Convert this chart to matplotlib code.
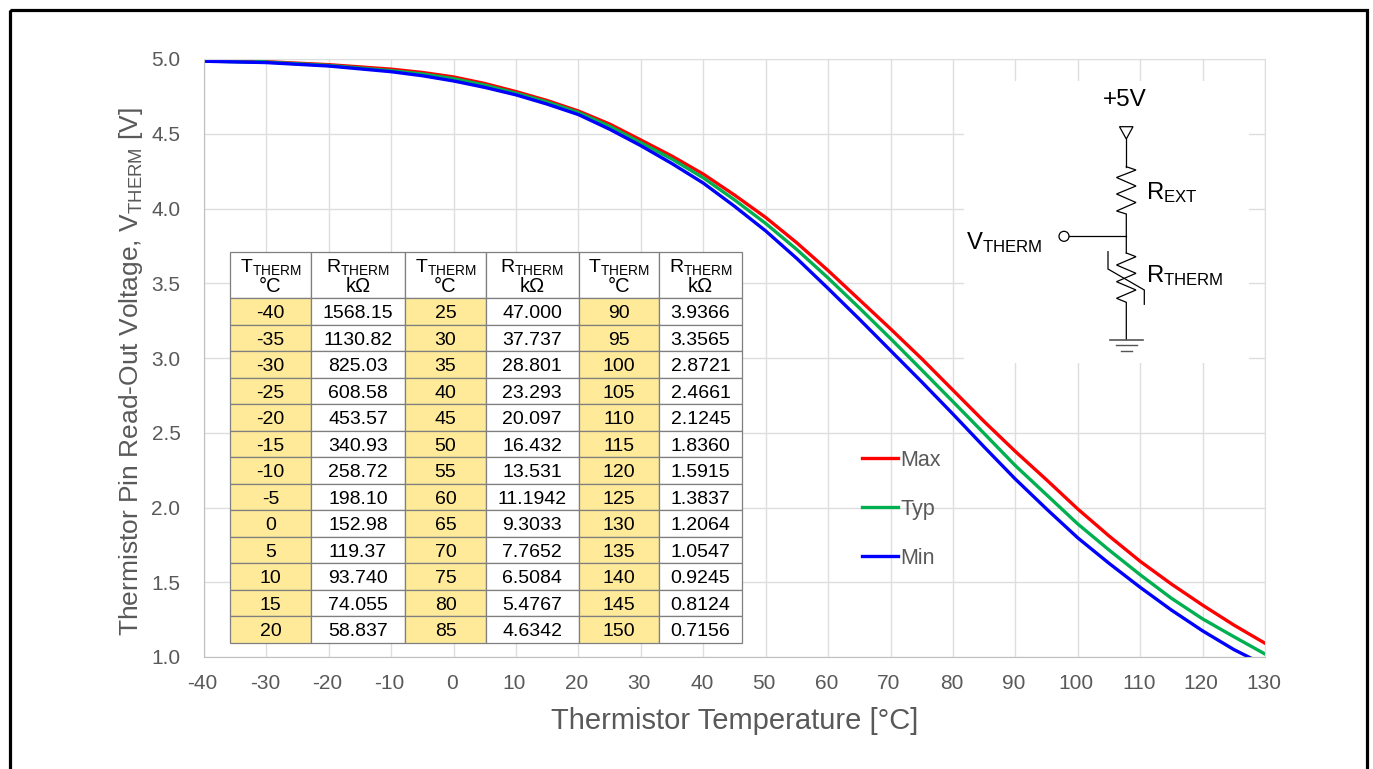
import matplotlib
matplotlib.use('Agg')
import matplotlib.pyplot as plt
from matplotlib.patches import Rectangle, Circle, Polygon
from matplotlib.transforms import ScaledTranslation

plt.rcParams['font.family'] = ['Liberation Sans', 'DejaVu Sans']
plt.rcParams['mathtext.fontset'] = 'custom'
plt.rcParams['mathtext.rm'] = 'Liberation Sans'
plt.rcParams['mathtext.default'] = 'regular'
plt.rcParams['axes.unicode_minus'] = False

# Data
temp = [-40, -32, -31, -30, -20, -10, -5, 0, 5, 10, 15, 20, 25, 30, 35, 40, 45, 50, 55, 60, 65, 70, 75, 80, 85,
        90, 95, 100, 105, 110, 115, 120, 125, 130]
v_max = [4.988, 4.984, 4.983, 4.982, 4.962, 4.932, 4.91, 4.88, 4.836, 4.782, 4.722, 4.652, 4.565, 4.458, 4.35,
         4.23, 4.09, 3.94, 3.77, 3.585, 3.39, 3.195, 2.995, 2.785, 2.575, 2.375, 2.185, 1.99, 1.81, 1.64, 1.488,
         1.347, 1.214, 1.092]
v_typ = [4.987, 4.978, 4.996, 4.979, 4.957, 4.922, 4.9, 4.868, 4.825, 4.771, 4.712, 4.642, 4.55, 4.44, 4.33,
         4.205, 4.058, 3.90, 3.725, 3.535, 3.335, 3.13, 2.92, 2.708, 2.495, 2.28, 2.085, 1.89, 1.716, 1.55, 1.393,
         1.255, 1.136, 1.02]
v_min = [4.985, 4.978, 4.977, 4.976, 4.953, 4.915, 4.888, 4.853, 4.81, 4.76, 4.698, 4.628, 4.53, 4.42, 4.30,
         4.17, 4.015, 3.85, 3.665, 3.465, 3.26, 3.05, 2.84, 2.625, 2.405, 2.19, 1.99, 1.797, 1.627, 1.466, 1.314,
         1.175, 1.05, 0.945]

x_ticks = list(range(-40, 131, 10))
y_ticks = [1.0, 1.5, 2.0, 2.5, 3.0, 3.5, 4.0, 4.5, 5.0]

t_col1 = ['-40', '-35', '-30', '-25', '-20', '-15', '-10', '-5', '0', '5', '10', '15', '20']
r_col1 = ['1568.15', '1130.82', '825.03', '608.58', '453.57', '340.93', '258.72', '198.10', '152.98', '119.37', '93.740', '74.055', '58.837']
t_col2 = ['25', '30', '35', '40', '45', '50', '55', '60', '65', '70', '75', '80', '85']
r_col2 = ['47.000', '37.737', '28.801', '23.293', '20.097', '16.432', '13.531', '11.1942', '9.3033', '7.7652', '6.5084', '5.4767', '4.6342']
t_col3 = ['90', '95', '100', '105', '110', '115', '120', '125', '130', '135', '140', '145', '150']
r_col3 = ['3.9366', '3.3565', '2.8721', '2.4661', '2.1245', '1.8360', '1.5915', '1.3837', '1.2064', '1.0547', '0.9245', '0.8124', '0.7156']

GREY = '#595959'
GRID = '#dedede'

fig = plt.figure(figsize=(13.73, 7.69), dpi=100)
ax = fig.add_axes([204/1373, (769-657)/769, 1061/1373, 598/769])

ax.plot(temp, v_max, color='#ff0000', lw=2.4, label='Max')
ax.plot(temp, v_typ, color='#00b050', lw=2.4, label='Typ')
ax.plot(temp, v_min, color='#0000ff', lw=2.4, label='Min')

ax.set_xlim(-40, 130)
ax.set_ylim(1, 5)
ax.set_xticks(x_ticks)
ax.set_yticks(y_ticks)
ax.set_yticklabels(['%.1f' % v for v in y_ticks])
ax.grid(True, color=GRID, lw=1)
ax.set_axisbelow(True)
ax.tick_params(axis='x', length=0, pad=12, labelsize=15, labelcolor=GREY)
ax.tick_params(axis='y', length=0, pad=17, labelsize=15, labelcolor=GREY)
# tick labels sit a little left of their gridlines in the original
shift = ScaledTranslation(-1.5/100, 0, fig.dpi_scale_trans)
for lab in ax.get_xticklabels():
    lab.set_transform(lab.get_transform() + shift)
for s in ['top', 'right']:
    ax.spines[s].set_color(GRID)
for s in ['left', 'bottom']:
    ax.spines[s].set_color('#bfbfbf')

ax.set_xlabel('Thermistor Temperature [°C]', fontsize=21, color=GREY, va='center')
ax.xaxis.set_label_coords(0.5, -0.107)
ax.set_ylabel('Thermistor Pin Read-Out Voltage, V$_{THERM}$ [V]', fontsize=19, color=GREY, va='center')
ax.yaxis.set_label_coords(-0.0688, 0.4766)

leg = ax.legend(loc='upper left', bbox_to_anchor=((862-204)/1061, (657-450)/598), frameon=False,
                fontsize=15.5, labelcolor=GREY, borderpad=0, borderaxespad=0,
                handlelength=1.68, handletextpad=0.12, labelspacing=1.30)

# overlay in pixel coordinates for table, circuit and frame
ov = fig.add_axes([0, 0, 1, 1])
ov.set_xlim(0, 1373)
ov.set_ylim(769, 0)
ov.axis('off')
ov.patch.set_alpha(0)

ov.add_patch(Rectangle((9.5, 9.5), 1357, 800, fill=False, ec='black', lw=2.3, clip_on=True))

# table
col_x = [230, 311, 405, 486, 578.5, 659, 742]
head_top, head_bot, row_h = 252, 298, 26.5
columns = [t_col1, r_col1, t_col2, r_col2, t_col3, r_col3]
EDGE = '#7f7f7f'
for c, values in enumerate(columns):
    x0, x1 = col_x[c], col_x[c+1]
    xm = (x0 + x1) / 2
    is_temp = c % 2 == 0
    ov.add_patch(Rectangle((x0, head_top), x1-x0, head_bot-head_top, fc='white', ec=EDGE, lw=0.9))
    ov.text(xm, 272, 'T$_{THERM}$' if is_temp else 'R$_{THERM}$', ha='center', va='baseline', fontsize=14, color='black')
    ov.text(xm, 292, '°C' if is_temp else 'kΩ', ha='center', va='baseline', fontsize=14.5, color='black')
    for r, val in enumerate(values):
        y0 = head_bot + r * row_h
        ov.add_patch(Rectangle((x0, y0), x1-x0, row_h, fc='#ffea9a' if is_temp else 'white', ec=EDGE, lw=0.9))
        ov.text(xm, y0 + row_h/2 + 0.5, val, ha='center', va='center_baseline', fontsize=14, color='black')

# circuit
ov.add_patch(Rectangle((964, 81), 285, 282, fc='white', ec='none'))
WIRE = dict(color='black', lw=0.9, solid_joinstyle='miter')
wx = 1126.3
ov.text(1124.5, 100, '+5V', ha='center', va='center', fontsize=17.5, color='black')
ov.add_patch(Polygon([(1119.5, 126.7), (1133, 126.7), (1126.3, 139)], closed=True, fill=False, ec='black', lw=0.9))
ov.plot([wx, wx], [139, 166.7], **WIRE)
ov.plot([wx, 1136, 1116.5, 1136, 1116.5, 1136, 1116.5, wx, wx],
        [166.7, 170, 177.5, 186, 194, 202.5, 211, 214, 253], **WIRE)
ov.plot([wx, 1136, 1116.5, 1136, 1116.5, 1136, 1116.5, wx, wx],
        [253, 256.7, 265, 273.3, 281.7, 290, 298.3, 302.3, 339.5], **WIRE)
ov.plot([1108, 1108, 1144.3, 1144.3], [251.7, 269, 290, 304.3], **WIRE)
ov.plot([1069, wx], [236.3, 236.3], **WIRE)
ov.add_patch(Circle((1064, 236.3), 5, fill=False, ec='black', lw=0.9))
ov.plot([1110, 1142.7], [340, 340], color='#555555', lw=1.2)
ov.plot([1116, 1136.7], [345.3, 345.3], color='#555555', lw=1.0)
ov.plot([1120.7, 1132], [350.7, 350.7], color='#555555', lw=1.0)
ov.text(966, 249, 'V$_{THERM}$', ha='left', va='baseline', fontsize=17.2, color='black')
ov.text(1146, 199, 'R$_{EXT}$', ha='left', va='baseline', fontsize=17.2, color='black')
ov.text(1146, 282, 'R$_{THERM}$', ha='left', va='baseline', fontsize=17.2, color='black')

fig.savefig('out.png', dpi=100)
